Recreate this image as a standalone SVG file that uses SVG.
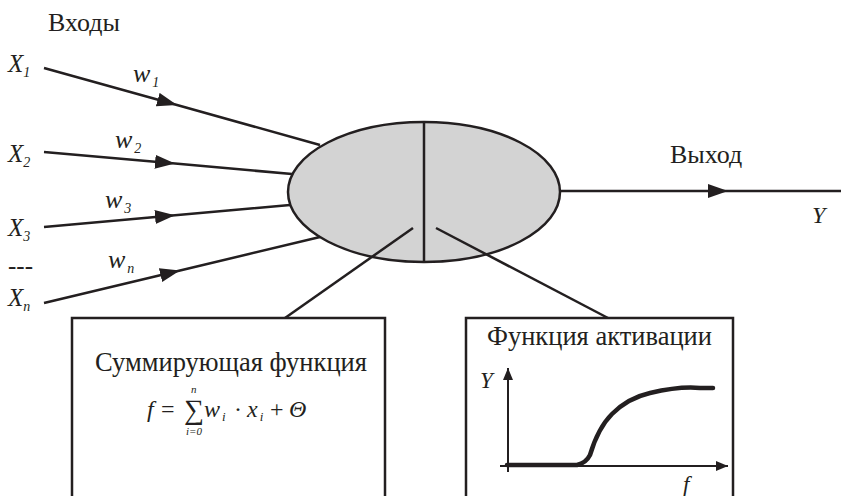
<svg xmlns="http://www.w3.org/2000/svg" width="841" height="496" viewBox="0 0 841 496">
<style>
.ln{stroke:#231f20;stroke-width:2.5;fill:none}
.t{font-family:"Liberation Serif",serif;fill:#231f20}
.i{font-family:"Liberation Serif",serif;font-style:italic;fill:#231f20}
</style>
<defs>
<marker id="ah" markerUnits="userSpaceOnUse" markerWidth="22" markerHeight="16" refX="20" refY="7" orient="auto"><path d="M0,0 L20,7 L0,14 Z" fill="#231f20"/></marker>
<marker id="sa" markerUnits="userSpaceOnUse" markerWidth="14" markerHeight="14" refX="12" refY="5" orient="auto"><path d="M0,0 L12,5 L0,10 Z" fill="#231f20"/></marker>
</defs>
<rect width="841" height="496" fill="#fff"/>
<text class="t" x="48" y="31" font-size="26">Входы</text>
<g id="neuron">
<ellipse cx="424" cy="192" rx="136" ry="70" fill="#d3d3d3" stroke="#231f20" stroke-width="2.5"/>
<line class="ln" x1="424" y1="122" x2="424" y2="262"/>
</g>
<g id="connectors">
<path class="ln" d="M44,68 L177,105 L320,145" marker-mid="url(#ah)"/>
<path class="ln" d="M44,152 L175,163.6 L292,174" marker-mid="url(#ah)"/>
<path class="ln" d="M44,227 L175,215.3 L290,205" marker-mid="url(#ah)"/>
<path class="ln" d="M44,303 L180,270.5 L320,237" marker-mid="url(#ah)"/>
<path class="ln" d="M560,191 L728,191 L841,191" marker-mid="url(#ah)"/>
<path class="ln" d="M413,228 L285,318"/>
<path class="ln" d="M436,228 L608,318"/>
</g>
<g id="inputs">
<text class="i" x="8" y="72" font-size="25">X<tspan font-size="14" dy="5">1</tspan></text>
<text class="i" x="8" y="162" font-size="25">X<tspan font-size="14" dy="5">2</tspan></text>
<text class="i" x="8" y="236" font-size="25">X<tspan font-size="14" dy="5">3</tspan></text>
<text class="t" x="8" y="274" font-size="25">---</text>
<text class="i" x="8" y="306" font-size="25">X<tspan font-size="14" dy="5">n</tspan></text>
<text class="i" x="133" y="82" font-size="26">w<tspan font-size="14" dx="2" dy="5">1</tspan></text>
<text class="i" x="115" y="148" font-size="26">w<tspan font-size="14" dx="2" dy="5">2</tspan></text>
<text class="i" x="105" y="208" font-size="26">w<tspan font-size="14" dx="2" dy="5">3</tspan></text>
<text class="i" x="108" y="268" font-size="26">w<tspan font-size="14" dx="2" dy="5">n</tspan></text>
</g>
<g id="output">
<text class="t" x="670" y="163" font-size="26">Выход</text>
<text class="i" x="812" y="223" font-size="24">Y</text>
</g>
<g id="sum-box">
<rect class="ln" x="72" y="318" width="313" height="200"/>
<text class="t" x="95" y="371" font-size="26.5">Суммирующая функция</text>
<text class="i" x="147" y="417" font-size="24">f</text>
<text class="t" x="161" y="417" font-size="24">=</text>
<text class="t" x="184" y="419" font-size="28">∑</text>
<text class="i" x="191" y="393" font-size="11">n</text>
<text class="i" x="186" y="435" font-size="11">i=0</text>
<text class="i" x="204" y="417" font-size="24">w<tspan font-size="13" dx="2" dy="4">i</tspan></text>
<text class="t" x="234" y="417" font-size="24">·</text>
<text class="i" x="247" y="417" font-size="24">x<tspan font-size="13" dx="2" dy="4">i</tspan></text>
<text class="t" x="270" y="417" font-size="24">+</text>
<text class="i" x="289" y="417" font-size="24">Θ</text>
</g>
<g id="activation-box">
<rect class="ln" x="466" y="318" width="267" height="200"/>
<text class="t" x="487" y="345" font-size="26.5">Функция активации</text>
<line stroke="#231f20" stroke-width="2" x1="508" y1="472" x2="508" y2="368" marker-end="url(#sa)"/>
<line stroke="#231f20" stroke-width="2" x1="500" y1="466" x2="728" y2="466" marker-end="url(#sa)"/>
<text class="i" x="480" y="388" font-size="23">Y</text>
<text class="i" x="683" y="492" font-size="23">f</text>
<path d="M507,465 L577,465 Q586,463 590,455 Q598,428 612,414 Q628,398 650,393 Q680,386 700,388 L713,388" fill="none" stroke="#231f20" stroke-width="4.5" stroke-linecap="round"/>
</g>
</svg>
